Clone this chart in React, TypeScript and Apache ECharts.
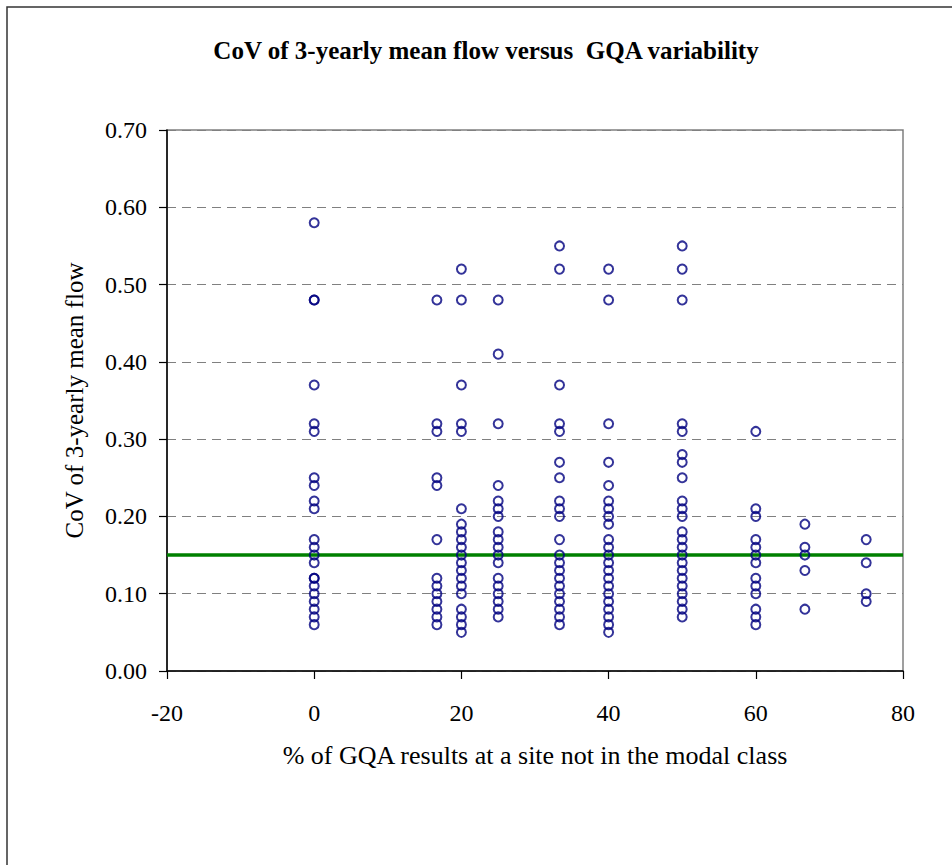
import React, { useEffect, useRef } from "react";
import * as echarts from "echarts";

// % of GQA results at a site not in the modal class (one column per value)
const gqaPercent = [0, 16.67, 20, 25, 33.33, 40, 50, 60, 66.67, 75];

// CoV of 3-yearly mean flow for the sites in each column
const covAt0 = [0.58, 0.48, 0.48, 0.37, 0.32, 0.31, 0.25, 0.24, 0.22, 0.21, 0.17, 0.16, 0.15, 0.14, 0.12, 0.12, 0.11, 0.1, 0.09, 0.08, 0.07, 0.06];
const covAt17 = [0.48, 0.32, 0.31, 0.25, 0.24, 0.17, 0.12, 0.11, 0.1, 0.09, 0.08, 0.07, 0.06];
const covAt20 = [0.52, 0.48, 0.37, 0.32, 0.31, 0.21, 0.19, 0.18, 0.17, 0.16, 0.15, 0.14, 0.13, 0.12, 0.11, 0.1, 0.08, 0.07, 0.06, 0.05];
const covAt25 = [0.48, 0.41, 0.32, 0.24, 0.22, 0.21, 0.2, 0.18, 0.17, 0.16, 0.15, 0.14, 0.12, 0.11, 0.1, 0.09, 0.08, 0.07];
const covAt33 = [0.55, 0.52, 0.37, 0.32, 0.31, 0.27, 0.25, 0.22, 0.21, 0.2, 0.17, 0.15, 0.14, 0.13, 0.12, 0.11, 0.1, 0.09, 0.08, 0.07, 0.06];
const covAt40 = [0.52, 0.48, 0.32, 0.27, 0.24, 0.22, 0.21, 0.2, 0.19, 0.17, 0.16, 0.15, 0.14, 0.13, 0.12, 0.11, 0.1, 0.09, 0.08, 0.07, 0.06, 0.05];
const covAt50 = [0.55, 0.52, 0.48, 0.32, 0.31, 0.28, 0.27, 0.25, 0.22, 0.21, 0.2, 0.18, 0.17, 0.16, 0.15, 0.14, 0.13, 0.12, 0.11, 0.1, 0.09, 0.08, 0.07];
const covAt60 = [0.31, 0.21, 0.2, 0.17, 0.16, 0.15, 0.14, 0.12, 0.11, 0.1, 0.08, 0.07, 0.06];
const covAt67 = [0.19, 0.16, 0.15, 0.13, 0.08];
const covAt75 = [0.17, 0.14, 0.1, 0.09];

const covColumns = [covAt0, covAt17, covAt20, covAt25, covAt33, covAt40, covAt50, covAt60, covAt67, covAt75];

// Reference level drawn across the whole x range
const thresholdCoV = 0.15;
const xRange = [-20, 80];

const titleText = "CoV of 3-yearly mean flow versus  GQA variability";
const xAxisTitle = "% of GQA results at a site not in the modal class";
const yAxisTitle = "CoV of 3-yearly mean flow";

const SERIF = '"Liberation Serif", "Times New Roman", serif';

export default function App() {
  const ref = useRef<HTMLDivElement>(null);

  useEffect(() => {
    if (!ref.current) return;
    const chart = echarts.init(ref.current, null, { renderer: "svg" });

    const points: number[][] = [];
    gqaPercent.forEach((x, i) => {
      covColumns[i].forEach((v) => points.push([x, v]));
    });

    chart.setOption({
      animation: false,
      backgroundColor: "#ffffff",
      textStyle: { fontFamily: SERIF, color: "#000" },
      graphic: [
        {
          type: "rect",
          shape: { x: 7, y: 7, width: 1000, height: 1000 },
          style: { fill: "none", stroke: "#333", lineWidth: 1.5 },
          silent: true,
          z: -1,
        },
        {
          type: "text",
          x: 486,
          y: 50,
          style: {
            text: titleText,
            font: `bold 25px ${SERIF}`,
            fill: "#000",
            textAlign: "center",
            textVerticalAlign: "middle",
          },
        },
      ],
      grid: {
        left: 167,
        right: 49,
        top: 130,
        bottom: 194,
        show: true,
        borderColor: "#808080",
        borderWidth: 1.5,
        backgroundColor: "transparent",
      },
      xAxis: {
        type: "value",
        min: xRange[0],
        max: xRange[1],
        interval: 20,
        name: xAxisTitle,
        nameLocation: "middle",
        nameGap: 71,
        nameTextStyle: { fontFamily: SERIF, fontSize: 26, color: "#000" },
        axisLine: { show: true, onZero: false, lineStyle: { color: "#000", width: 1.5 } },
        axisTick: { show: true, inside: false, length: 8, lineStyle: { color: "#000", width: 1.2 } },
        axisLabel: { fontFamily: SERIF, fontSize: 24, color: "#000", margin: 30 },
        splitLine: { show: false },
      },
      yAxis: {
        type: "value",
        min: 0,
        max: 0.7,
        interval: 0.1,
        name: yAxisTitle,
        nameLocation: "middle",
        nameGap: 80,
        nameRotate: 90,
        nameTextStyle: { fontFamily: SERIF, fontSize: 25, color: "#000" },
        axisLine: { show: true, onZero: false, lineStyle: { color: "#000", width: 1.5 } },
        axisTick: { show: true, inside: false, length: 8, lineStyle: { color: "#000", width: 1.2 } },
        axisLabel: {
          fontFamily: SERIF,
          fontSize: 24,
          color: "#000",
          margin: 20,
          formatter: (v: number) => v.toFixed(2),
        },
        splitLine: { show: true, lineStyle: { color: "#808080", type: [9, 6], width: 1.2 } },
      },
      series: [
        {
          type: "line",
          data: [
            [xRange[0], thresholdCoV],
            [xRange[1], thresholdCoV],
          ],
          symbol: "none",
          lineStyle: { color: "#008000", width: 3.5 },
          z: 2,
          silent: true,
        },
        {
          type: "scatter",
          data: points,
          symbol: "circle",
          symbolSize: 9,
          itemStyle: { color: "rgba(0,0,0,0)", borderColor: "#000080", borderWidth: 2 },
          z: 3,
        },
      ],
    });

    return () => chart.dispose();
  }, []);

  return (
    <div
      ref={ref}
      style={{ position: "fixed", left: 0, top: 0, width: 952, height: 865 }}
    />
  );
}
